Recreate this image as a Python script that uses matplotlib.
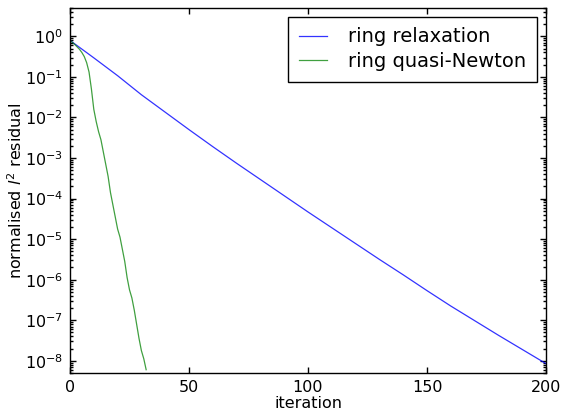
import numpy as np
import matplotlib
matplotlib.use('Agg')
import matplotlib.pyplot as plt
from matplotlib.ticker import LogLocator, NullFormatter

# residual history, stored as log10 of the normalised l2 residual
relax_iter = [0, 10, 20, 30, 40, 50, 60, 70, 80, 90, 100,
              110, 120, 130, 140, 150, 160, 170, 180, 190, 200]
relax_log = [-0.10, -0.53, -0.97, -1.44, -1.87, -2.30, -2.72, -3.13, -3.53, -3.93, -4.33,
             -4.72, -5.11, -5.50, -5.88, -6.27, -6.65, -7.01, -7.37, -7.72, -8.07]

qn_iter = list(range(33))
qn_log = [-0.10, -0.15, -0.20, -0.26, -0.32, -0.40, -0.50, -0.65, -0.88, -1.30,
          -1.80, -2.10, -2.35, -2.55, -2.85, -3.15, -3.45, -3.85, -4.15, -4.45,
          -4.75, -4.95, -5.25, -5.55, -5.95, -6.25, -6.45, -6.75, -7.10, -7.45,
          -7.75, -7.95, -8.22]

labels = ['ring relaxation', 'ring quasi-Newton']

plt.rcParams['font.family'] = 'DejaVu Sans'
plt.rcParams['font.size'] = 11.5
plt.rcParams['axes.unicode_minus'] = False

fig = plt.figure(figsize=(5.64, 4.11), dpi=100)
ax = fig.add_axes([70/564, 38/411, 476/564, 365/411])

ax.plot(relax_iter, 10**np.array(relax_log), color='b', lw=0.9, alpha=0.8, label=labels[0])
ax.plot(qn_iter, 10**np.array(qn_log), color='g', lw=0.9, alpha=0.75, label=labels[1])

ax.set_yscale('log')
ax.set_xlim(0, 200)
ax.set_ylim(5e-9, 5)
ax.set_xticks([0, 50, 100, 150, 200])
ax.yaxis.set_major_locator(LogLocator(base=10, numticks=20))
ax.yaxis.set_minor_locator(LogLocator(base=10, subs=np.arange(2, 10), numticks=20))
ax.yaxis.set_minor_formatter(NullFormatter())

ax.tick_params(which='both', direction='in', top=True, right=True, width=1)
ax.tick_params(which='major', length=4, pad=5)
ax.tick_params(which='minor', length=2)
for s in ax.spines.values():
    s.set_linewidth(1.0)

ax.set_xlabel('iteration')
ax.set_ylabel('normalised $l^2$ residual')
ax.xaxis.set_label_coords(0.5, -0.063)
ax.yaxis.set_label_coords(-0.095, 0.5)

leg = ax.legend(loc='upper right', fontsize=14, fancybox=False, framealpha=1,
                edgecolor='black', borderaxespad=0.45, borderpad=0.55,
                handlelength=1.45, handletextpad=1.1, labelspacing=0.3)
leg.get_frame().set_linewidth(1.0)

fig.savefig('out.png', dpi=100)
